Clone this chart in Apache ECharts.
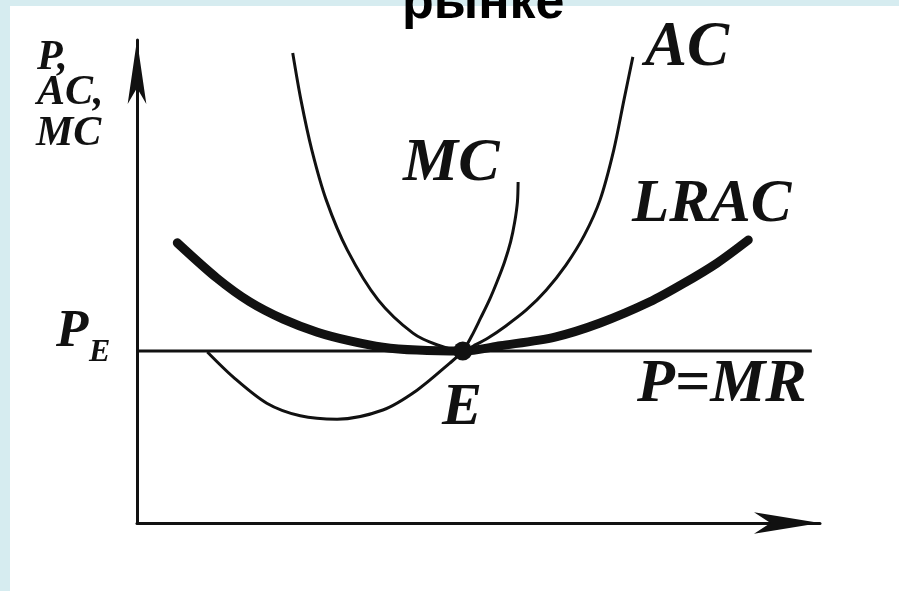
<!DOCTYPE html>
<html>
<head>
<meta charset="utf-8">
<title>LRAC</title>
<script src="https://cdn.jsdelivr.net/npm/echarts@6/dist/echarts.min.js"></script>
<style>
  html, body { margin: 0; padding: 0; background: #d6ecf0; }
  #chart { width: 899px; height: 591px; }
</style>
</head>
<body>
<div id="chart"></div>
<script>
// quantity (x) and price (y) in arbitrary units, 0..100 on both axes
var priceE = 35.6;
var qtyE = 47.7;

var acCurve = [
  [22.8, 97.3], [24.0, 87.6], [25.6, 77.2], [27.7, 66.9], [30.8, 56.5],
  [35.3, 46.2], [40.4, 39.3], [43.9, 36.9], [47.7, 35.6],
  [49.3, 36.7], [51.4, 38.3], [54.0, 40.8], [57.0, 44.1], [59.9, 48.2],
  [62.8, 53.4], [65.5, 59.6], [67.8, 66.9], [69.8, 77.2], [71.3, 87.6],
  [72.6, 96.5]
];

var mcCurve = [
  [10.3, 35.4], [14.1, 30.2], [19.0, 24.8], [23.9, 22.2], [29.3, 21.5],
  [36.0, 23.4], [41.0, 27.5], [45.8, 33.1], [47.7, 35.6], [49.0, 38.7],
  [50.3, 42.4], [51.6, 46.2], [52.7, 49.9], [53.8, 54.0], [54.7, 58.2],
  [55.3, 62.3], [55.7, 66.5], [55.8, 70.6]
];

var lracCurve = [
  [5.9, 58.0], [11.7, 50.7], [16.5, 45.8], [21.4, 42.2], [26.4, 39.5],
  [31.2, 37.7], [36.0, 36.4], [41.0, 35.8], [47.7, 35.6], [53.2, 36.7],
  [61.2, 38.5], [67.8, 41.4], [75.1, 45.8], [79.9, 49.5], [84.9, 53.8],
  [89.5, 58.6]
];

var mrLine = [[0, priceE], [98.8, priceE]];
var eqPoint = [[qtyE, priceE]];

var titleText = "рынке";
var axisLabelLines = ["P,", "AC,", "MC"];
var curveLabels = ["AC", "MC", "LRAC", "P=MR", "E"];

var ink = "#111";
var serif = "italic bold {s}px 'Liberation Serif', 'DejaVu Serif', serif";

function font(size) {
  return serif.replace("{s}", size);
}

function label(text, x, y, size) {
  return {
    type: "text",
    z: 50,
    style: {
      x: x, y: y, text: text, fill: ink,
      font: font(size), align: "left", verticalAlign: "middle"
    }
  };
}

var chart = echarts.init(document.getElementById("chart"));

chart.setOption({
  backgroundColor: "#d6ecf0",
  animation: false,
  grid: {left: 137, right: 79, top: 40, bottom: 68},
  xAxis: {
    type: "value", min: 0, max: 100,
    axisLine: {
      show: true,
      lineStyle: {color: ink, width: 3},
      symbol: ["none", "arrow"],
      symbolSize: [16, 66],
      symbolOffset: [0, 0]
    },
    axisTick: {show: false},
    axisLabel: {show: false},
    splitLine: {show: false}
  },
  yAxis: {
    type: "value", min: 0, max: 100,
    axisLine: {
      show: true,
      lineStyle: {color: ink, width: 3},
      symbol: ["none", "arrow"],
      symbolSize: [14, 64],
      symbolOffset: [0, 0]
    },
    axisTick: {show: false},
    axisLabel: {show: false},
    splitLine: {show: false}
  },
  graphic: [
    {type: "rect", z: -10, silent: true, shape: {x: 10, y: 6, width: 889, height: 585}, style: {fill: "#fff"}},
    {
      type: "text", z: 60,
      style: {
        x: 402, y: 4, text: titleText, fill: "#000",
        font: "bold 52px 'Liberation Sans', Arial, sans-serif",
        align: "left", verticalAlign: "middle"
      }
    },
    label(axisLabelLines[0], 37, 58, 42),
    label(axisLabelLines[1], 37, 93, 42),
    label(axisLabelLines[2], 36, 134, 42),
    label(curveLabels[0], 645, 49, 63),
    label(curveLabels[1], 403, 164, 62),
    label(curveLabels[2], 632, 205, 61),
    label(curveLabels[3], 637, 385, 62),
    label(curveLabels[4], 442, 408, 60),
    label("P", 56, 332, 53),
    label("E", 89, 353, 32)
  ],
  series: [
    {
      name: "P=MR", type: "line", data: mrLine, symbol: "none",
      lineStyle: {color: ink, width: 3}
    },
    {
      name: "LRAC", type: "line", data: lracCurve, symbol: "none",
      smooth: 0.3,
      lineStyle: {color: ink, width: 9, cap: "round"}
    },
    {
      name: "AC", type: "line", data: acCurve, symbol: "none",
      smooth: 0.3,
      lineStyle: {color: ink, width: 3}
    },
    {
      name: "MC", type: "line", data: mcCurve, symbol: "none",
      smooth: 0.3,
      lineStyle: {color: ink, width: 3}
    },
    {
      name: "E", type: "scatter", data: eqPoint, symbolSize: 19,
      itemStyle: {color: ink, opacity: 1}, z: 10
    }
  ]
});
</script>
</body>
</html>
